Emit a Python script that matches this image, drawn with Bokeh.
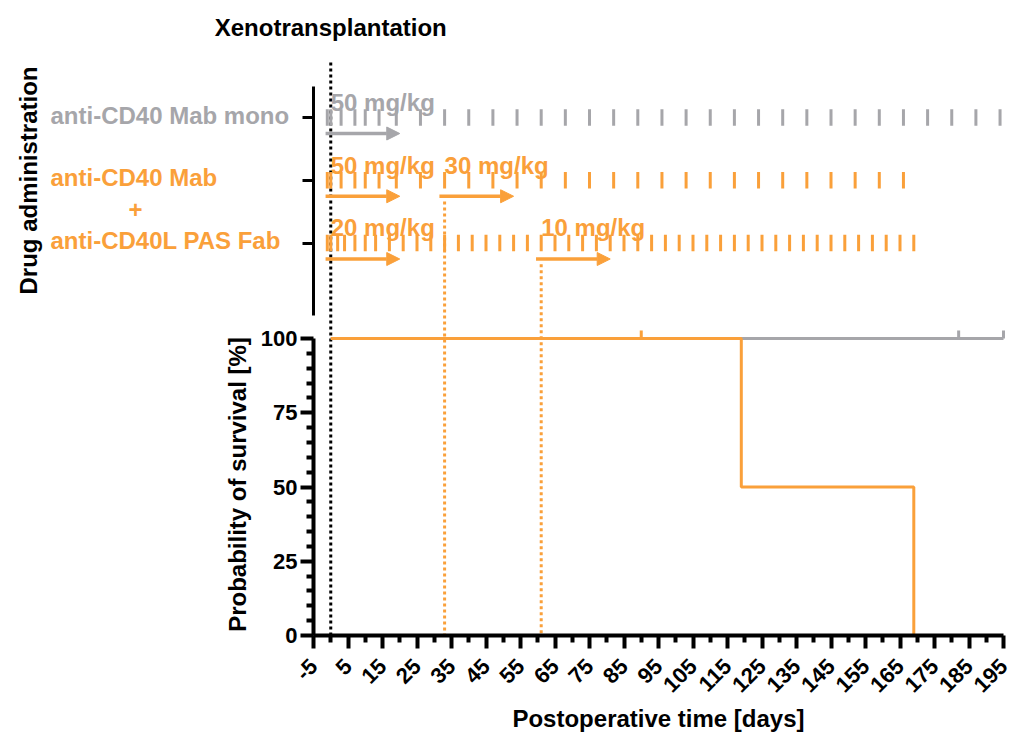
import math
from bokeh.plotting import figure
from bokeh.models import Range1d, FixedTicker, Arrow, NormalHead, LinearAxis
from bokeh.core.properties import value
from bokeh.embed import file_html
from bokeh.resources import INLINE

# ---------------- data ----------------
GRAY = "#A6A6AA"
ORANGE = "#FAA03A"
FONT = "Liberation Sans"

row_names = ["anti-CD40 Mab mono", "anti-CD40 Mab", "anti-CD40L PAS Fab"]
row_ids = [1, 2, 3]
row_colors = [GRAY, ORANGE, ORANGE]

# administration days (read from the dash positions)
mono_days = [-1, 0, 3, 7, 10, 14, 19, 26, 33, 40, 47, 54, 61, 68, 75, 82, 89, 96,
             103, 110, 117, 124, 131, 138, 145, 152, 159, 166, 173, 180, 187, 194]
mab_days = [-1, 0, 3, 7, 10, 14, 19, 26, 33, 40, 47, 54, 61, 68, 75, 82, 89, 96,
            103, 110, 117, 124, 131, 138, 145, 152, 159, 166]
fab_days = [-1, 0, 2, 4, 7, 10, 13, 17, 21, 25, 29, 33, 37, 41, 45, 49, 53, 57, 61,
            65, 69, 73, 77, 81, 85, 89, 93, 97, 101, 105, 109, 113, 117, 121, 125,
            129, 133, 137, 141, 145, 149, 153, 157, 161, 165, 169]

# dose changes
dose_rows = [1, 2, 2, 3, 3]
dose_days = [0, 0, 33, 0, 61]
dose_labels = ["50 mg/kg", "50 mg/kg", "30 mg/kg", "20 mg/kg", "10 mg/kg"]
dose_colors = [GRAY, ORANGE, ORANGE, ORANGE, ORANGE]
arrow_span_days = 21.5

xeno_day = 0
switch_days = [33, 61]          # Mab dose switch, Fab dose switch
switch_rows = [2, 3]

# Kaplan-Meier survival
mono_surv_days = [0, 195]
mono_surv_pct = [100, 100]
mono_censor_days = [182, 195]
combo_surv_days = [0, 119, 169]
combo_surv_pct = [100, 50, 0]
combo_censor_days = [90]

x_major = list(range(-5, 200, 10))
x_minor = list(range(0, 200, 10))
y_major = [0, 25, 50, 75, 100]
y_minor = [v for v in range(5, 100, 5) if v % 25 != 0]

# ---------------- layout constants (pixels) ----------------
W, H = 1011, 735
X_LEFT_PIX = 313        # day -5
X_RIGHT_PIX = 1003      # day 195
PX_DAY = (X_RIGHT_PIX - X_LEFT_PIX) / 200.0
Y0_PIX, Y100_PIX = 635, 338
PX_PCT = (Y0_PIX - Y100_PIX) / 100.0
PX_ROW = 62.75
ROW1_PIX = 117

def surv_of(pix):
    return (Y0_PIX - pix) / PX_PCT

def row_of(pix):
    return 1 + (pix - ROW1_PIX) / PX_ROW

p = figure(width=W, height=H,
           x_range=Range1d(-5 - X_LEFT_PIX / PX_DAY, 195 + (W - X_RIGHT_PIX) / PX_DAY),
           y_range=Range1d(surv_of(H), surv_of(0)),
           output_backend="svg", toolbar_location=None,
           x_axis_location=None, y_axis_location=None,
           min_border=0, min_border_left=0, min_border_right=0,
           min_border_top=0, min_border_bottom=0)
p.extra_y_ranges = {"drug": Range1d(row_of(H), row_of(0))}
p.outline_line_color = None
p.xgrid.visible = False
p.ygrid.visible = False

def bold_text(**kw):
    kw.setdefault("text_font_size", "24px")
    p.text(text_font=value(FONT), text_font_style="bold", **kw)

# ---------------- dotted event lines ----------------
p.segment(x0=[xeno_day], y0=[surv_of(62)], x1=[xeno_day], y1=[0],
          line_color="black", line_width=3, line_dash="3 3")
p.segment(x0=switch_days, y0=[surv_of(ROW1_PIX + (r - 1 + 0.34) * PX_ROW) for r in switch_rows],
          x1=switch_days, y1=[0] * len(switch_days),
          line_color=ORANGE, line_width=3, line_dash="3 3")

# ---------------- drug administration panel ----------------
ya = LinearAxis(y_range_name="drug", fixed_location=-5,
                ticker=FixedTicker(ticks=row_ids, minor_ticks=[]),
                major_label_overrides={1: "", 2: "", 3: ""},
                bounds=(row_of(86), row_of(315)),
                axis_line_width=3, major_tick_line_width=3,
                major_tick_in=0, major_tick_out=11,
                minor_tick_in=0, minor_tick_out=0)
p.add_layout(ya, "left")

dash_half = 0.13
for days, r, c in zip([mono_days, mab_days, fab_days], row_ids, row_colors):
    p.segment(x0=days, y0=[r - dash_half] * len(days), x1=days,
              y1=[r + dash_half] * len(days), line_color=c, line_width=3,
              y_range_name="drug")

bold_text(x=dose_days, y=[r - 0.24 for r in dose_rows], text=dose_labels,
          text_color=dose_colors, text_baseline="alphabetic", text_align="left",
          y_range_name="drug")

for r, d, c in zip(dose_rows, dose_days, dose_colors):
    p.add_layout(Arrow(x_start=d - 1.5, y_start=r + 0.255,
                       x_end=d + arrow_span_days - 1.5, y_end=r + 0.255,
                       line_color=c, line_width=3.5, y_range_name="drug",
                       end=NormalHead(size=13, fill_color=c, line_color=c)))

bold_text(x=[-5, -5, -5], y=[row_of(115), row_of(177), row_of(240)],
          text=row_names, text_color=row_colors, x_offset=50 - X_LEFT_PIX,
          text_baseline="middle", text_align="left", y_range_name="drug")
bold_text(x=[-5], y=[row_of(209)], text=["+"], text_color=ORANGE,
          x_offset=135 - X_LEFT_PIX, text_baseline="middle", text_align="center",
          y_range_name="drug")
bold_text(x=[-5], y=[row_of(180)], text=["Drug administration"],
          text_color="black", x_offset=28 - X_LEFT_PIX, angle=math.pi / 2,
          text_baseline="middle", text_align="center", y_range_name="drug")
bold_text(x=[xeno_day], y=[row_of(27)], text=["Xenotransplantation"],
          text_color="black", text_baseline="middle", text_align="center",
          y_range_name="drug")

# ---------------- survival panel ----------------
p.line(mono_surv_days, mono_surv_pct, line_color=GRAY, line_width=3)
p.segment(x0=mono_censor_days, y0=[100] * len(mono_censor_days),
          x1=mono_censor_days, y1=[102.7] * len(mono_censor_days),
          line_color=GRAY, line_width=3)
p.step(combo_surv_days, combo_surv_pct, mode="after", line_color=ORANGE, line_width=3)
p.segment(x0=combo_censor_days, y0=[100] * len(combo_censor_days),
          x1=combo_censor_days, y1=[102.7] * len(combo_censor_days),
          line_color=ORANGE, line_width=3)

xa = LinearAxis(fixed_location=0, bounds=(-5, 195),
                ticker=FixedTicker(ticks=x_major, minor_ticks=x_minor),
                major_label_overrides={t: str(t) for t in x_major},
                major_label_orientation=math.pi / 4,
                major_label_standoff=14)
yb = LinearAxis(fixed_location=-5, bounds=(0, 100),
                ticker=FixedTicker(ticks=y_major, minor_ticks=y_minor),
                major_label_standoff=3)
for ax in (xa, yb):
    ax.axis_line_width = 4
    ax.major_tick_line_width = 4
    ax.minor_tick_line_width = 4
    ax.major_tick_out = 13
    ax.major_tick_in = 0
    ax.minor_tick_out = 7
    ax.minor_tick_in = 0
    ax.major_label_text_font = FONT
    ax.major_label_text_font_style = "bold"
    ax.major_label_text_font_size = "22px"
    ax.major_label_text_color = "black"
p.add_layout(xa, "below")
p.add_layout(yb, "left")

# axis titles
bold_text(x=[95], y=[surv_of(718)], text=["Postoperative time [days]"],
          text_color="black", text_baseline="middle", text_align="center")
bold_text(x=[-5], y=[surv_of(484)], text=["Probability of survival [%]"],
          text_color="black", x_offset=237 - X_LEFT_PIX, angle=math.pi / 2,
          text_baseline="middle", text_align="center")

open("out.html", "w").write(file_html(p, INLINE))
